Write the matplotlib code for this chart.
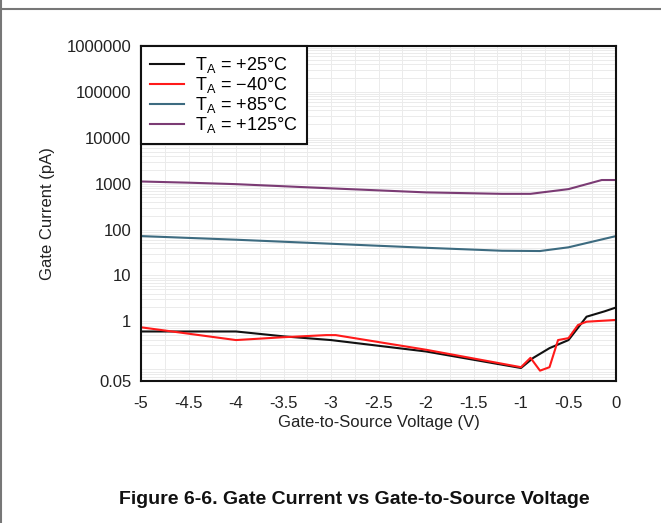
import matplotlib
matplotlib.use("Agg")
import matplotlib.pyplot as plt
from matplotlib.lines import Line2D
from matplotlib.ticker import FixedLocator, FixedFormatter, LogLocator, MultipleLocator, NullFormatter

plt.rcParams['font.family'] = ['Liberation Sans', 'DejaVu Sans']
plt.rcParams['mathtext.fontset'] = 'custom'
plt.rcParams['mathtext.rm'] = 'Liberation Sans'

# gate current (pA) vs Vgs (V)
v_25 = [-5, -4, -3.5, -3, -2, -1.0, -0.87, -0.7, -0.5, -0.31, -0.12, 0]
i_25 = [0.6, 0.6, 0.47, 0.39, 0.22, 0.096, 0.16, 0.26, 0.39, 1.26, 1.65, 2.0]

v_m40 = [-5, -4, -3.5, -3.05, -2.95, -2, -1.0, -0.9, -0.8, -0.7, -0.61, -0.5, -0.4, -0.31, 0]
i_m40 = [0.74, 0.39, 0.45, 0.50, 0.50, 0.24, 0.10, 0.16, 0.084, 0.10, 0.39, 0.43, 0.83, 0.98, 1.07]

v_85 = [-5, -4, -3, -2, -1.2, -0.8, -0.5, 0]
i_85 = [72, 60, 49, 40, 34.5, 34, 41, 72]

v_125 = [-5, -4.5, -4, -3, -2, -1.2, -0.9, -0.5, -0.15, 0]
i_125 = [1115, 1050, 975, 790, 645, 600, 600, 760, 1200, 1200]

labels = ['T$_\\mathrm{A}$ = +25°C', 'T$_\\mathrm{A}$ = \u221240°C',
          'T$_\\mathrm{A}$ = +85°C', 'T$_\\mathrm{A}$ = +125°C']
colors = ['#111111', '#ff1a1a', '#3d6b80', '#7b3b74']

ytick_vals = [0.05, 1, 10, 100, 1000, 10000, 100000, 1000000]
ytick_text = ['0.05', '1', '10', '100', '1000', '10000', '100000', '1000000']
xtick_vals = [-5, -4.5, -4, -3.5, -3, -2.5, -2, -1.5, -1, -0.5, 0]

fig = plt.figure(figsize=(6.61, 5.23), dpi=100)
ax = fig.add_axes([141/661, 1 - 381/523, 475/661, 335/523])

for v, i, lab, c in zip([v_25, v_m40, v_85, v_125], [i_25, i_m40, i_85, i_125], labels, colors):
    ax.plot(v, i, color=c, lw=1.5, label=lab)

ax.set_yscale('log')
ax.set_xlim(-5, 0)
ax.set_ylim(0.05, 1000000)

ax.yaxis.set_major_locator(FixedLocator(ytick_vals))
ax.yaxis.set_major_formatter(FixedFormatter(ytick_text))
ax.yaxis.set_minor_locator(LogLocator(base=10, subs=range(2, 10), numticks=20))
ax.yaxis.set_minor_formatter(NullFormatter())
ax.set_xticks(xtick_vals)
ax.set_xticklabels(['0' if t == 0 else ('%g' % t) for t in xtick_vals])
ax.xaxis.set_minor_locator(MultipleLocator(0.25))

ax.grid(True, which='both', color='#ebebeb', lw=0.7)
ax.set_axisbelow(True)
ax.tick_params(which='both', length=0, labelsize=12, colors='#222222')
ax.tick_params(axis='y', pad=7)
ax.tick_params(axis='x', pad=11)
for s in ax.spines.values():
    s.set_linewidth(1.5)
    s.set_color('#111111')

ax.set_xlabel('Gate-to-Source Voltage (V)', fontsize=12, color='#222222', labelpad=3)
ax.set_ylabel('Gate Current (pA)', fontsize=12, color='#222222')
ax.yaxis.set_label_coords(-0.181, 0.5)

leg = ax.legend(loc='upper left', fontsize=13, frameon=True, fancybox=False,
                framealpha=1, edgecolor='#111111', borderaxespad=0,
                handlelength=1.9, handletextpad=0.6, labelspacing=0.0, borderpad=0.5)
leg.get_frame().set_linewidth(1.5)

fig.text(354/661, 1 - 500/523, 'Figure 6-6. Gate Current vs Gate-to-Source Voltage',
         ha='center', va='center', fontsize=14, fontweight='bold', color='#111111')

# page frame lines
fig.add_artist(Line2D([0, 1], [1 - 9/523, 1 - 9/523], color='#777777', lw=1.5))
fig.add_artist(Line2D([0.001, 0.001], [0, 1], color='#777777', lw=1.5))

fig.savefig('out.png', dpi=100)
